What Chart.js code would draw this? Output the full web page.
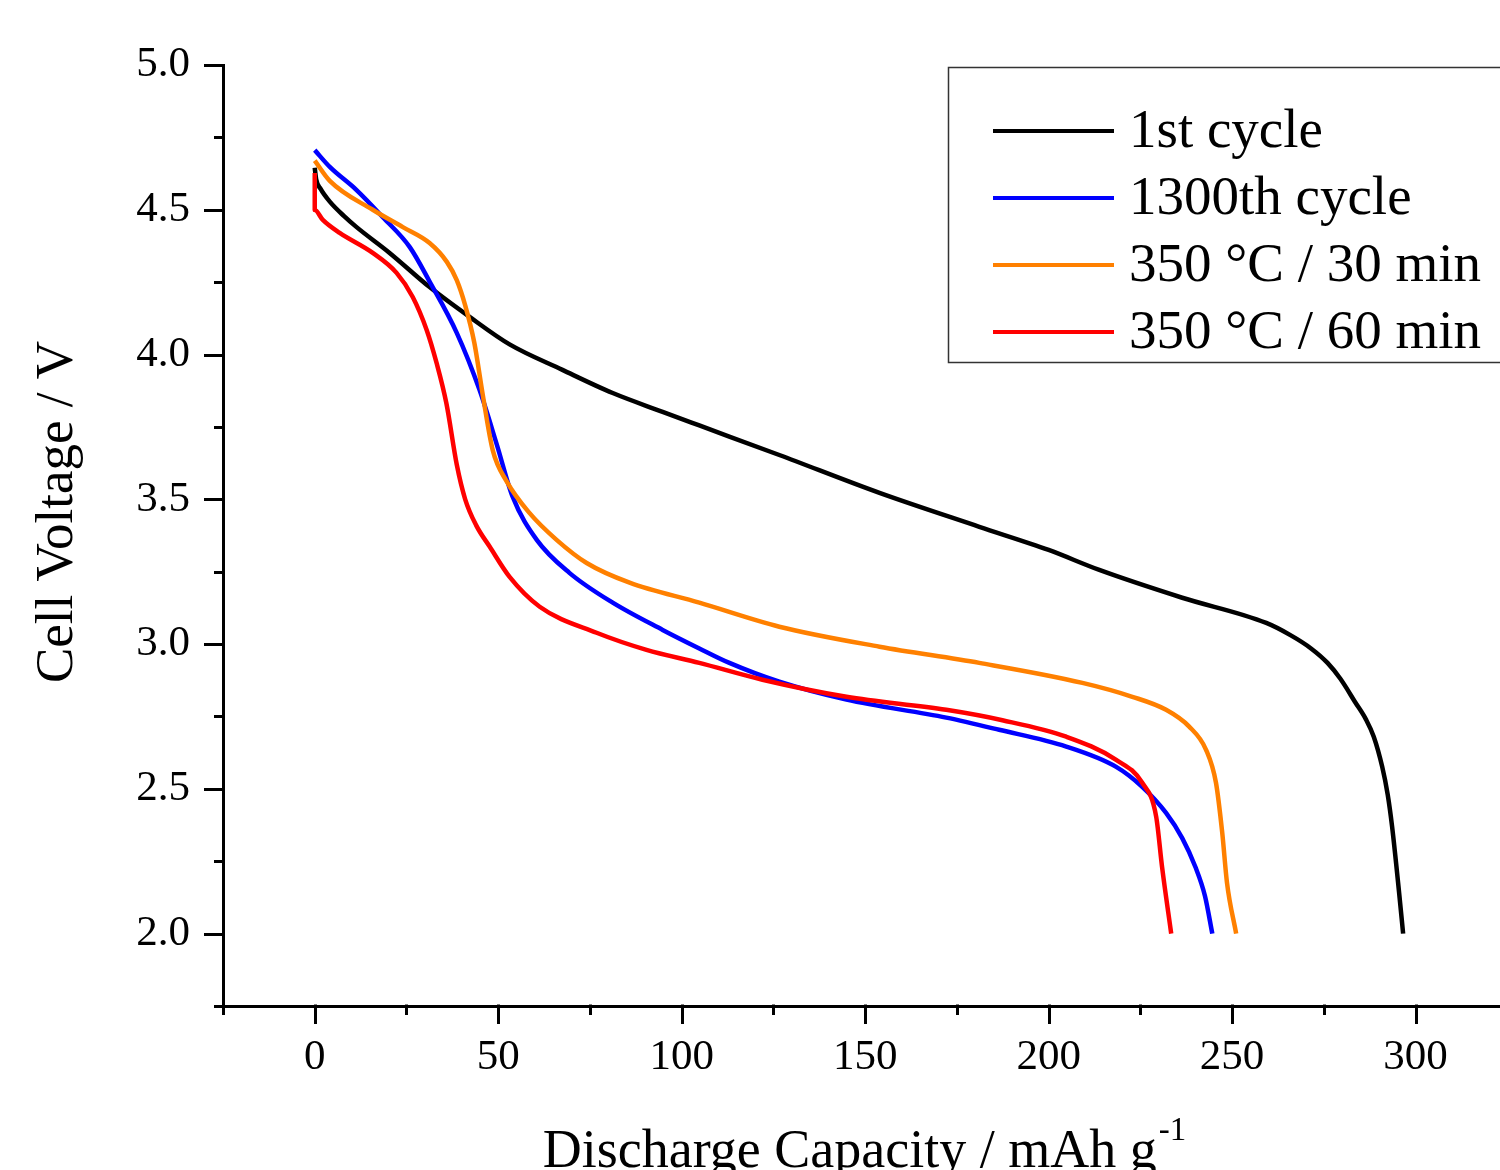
<!DOCTYPE html>
<html><head><meta charset="utf-8">
<script src="https://cdn.jsdelivr.net/npm/chart.js@4.4.0/dist/chart.umd.min.js"></script>
<style>html,body{margin:0;padding:0;background:#fff;overflow:hidden}canvas{display:block}</style>
</head><body><canvas id="c" width="1500" height="1170"></canvas>
<script>
const seriesLabels = ['1st cycle', '1300th cycle', '350 °C / 30 min', '350 °C / 60 min'];
const seriesColors = ['#000000', '#0000ff', '#ff8000', '#ff0000'];

const cap1st  = [0, 0.4, 1.6, 4.1, 8.0, 11.4, 20.4, 31.3, 42.2, 53.1, 67.5, 81.2, 94.8, 104.8, 126.6, 153.9, 181.1, 200, 213.8, 236.4, 259.3, 266.0, 271.5, 276.0, 279.5, 283.5, 286.5, 288.6, 290.9, 292.4, 293.6, 295.5, 296.6];
const volt1st = [4.645, 4.605, 4.572, 4.528, 4.478, 4.44, 4.351, 4.233, 4.13, 4.035, 3.947, 3.867, 3.802, 3.755, 3.653, 3.522, 3.405, 3.325, 3.256, 3.16, 3.073, 3.03, 2.985, 2.935, 2.88, 2.80, 2.739, 2.68, 2.576, 2.48, 2.369, 2.142, 2.0];

const cap1300  = [0, 4.1, 11.4, 18.5, 25.9, 31.3, 38.7, 44.9, 49.6, 53.9, 60.5, 69.4, 81.2, 94.8, 104.8, 113.0, 126.6, 144.9, 172.1, 186.5, 204.8, 218.4, 225.5, 232.0, 236.4, 240.0, 242.6, 244.6];
const volt1300 = [4.706, 4.648, 4.568, 4.475, 4.371, 4.252, 4.075, 3.878, 3.690, 3.51, 3.36, 3.246, 3.143, 3.049, 2.985, 2.935, 2.87, 2.808, 2.746, 2.704, 2.646, 2.576, 2.507, 2.417, 2.33, 2.23, 2.13, 2.0];

const cap30  = [0, 4.1, 15.8, 24.0, 31.3, 36.0, 38.7, 41.0, 43.5, 45.8, 48.5, 52.3, 58.5, 65.9, 74.1, 85.8, 104.8, 126.6, 153.9, 181.1, 209.2, 222.8, 232.0, 238.3, 242.9, 245.6, 247.3, 248.6, 251.1];
const volt30 = [4.67, 4.60, 4.50, 4.44, 4.385, 4.32, 4.257, 4.17, 4.04, 3.86, 3.67, 3.562, 3.453, 3.36, 3.28, 3.212, 3.143, 3.06, 2.991, 2.935, 2.866, 2.818, 2.773, 2.715, 2.635, 2.521, 2.349, 2.176, 2.0];

const cap60  = [0, 0, 2.2, 6.8, 15.8, 22.3, 26.7, 30.5, 33.2, 35.9, 38.7, 41.0, 44.0, 47.7, 53.1, 61.3, 76.8, 90.4, 104.8, 122.0, 144.9, 172.1, 187.4, 204.8, 218.4, 225.5, 229.3, 230.9, 233.4];
const volt60 = [4.627, 4.499, 4.465, 4.42, 4.351, 4.282, 4.199, 4.085, 3.971, 3.83, 3.62, 3.50, 3.41, 3.336, 3.232, 3.129, 3.039, 2.98, 2.935, 2.877, 2.818, 2.773, 2.737, 2.68, 2.60, 2.521, 2.404, 2.231, 2.0];

const xTickValues = [0, 50, 100, 150, 200, 250, 300];
const yTickValues = [2.0, 2.5, 3.0, 3.5, 4.0, 4.5, 5.0];
const xMinorValues = [-25, 25, 75, 125, 175, 225, 275, 325];
const yMinorValues = [1.75, 2.25, 2.75, 3.25, 3.75, 4.25, 4.75];
const xTitle = 'Discharge Capacity / mAh g';
const xTitleSup = '-1';
const yTitle = 'Cell Voltage / V';

const caps = [cap1st, cap1300, cap30, cap60];
const volts = [volt1st, volt1300, volt30, volt60];
const FONT = '"Liberation Serif", "Times New Roman", serif';

const datasets = seriesLabels.map((lab, i) => ({
  label: lab,
  data: caps[i].map((c, j) => ({x: c, y: volts[i][j]})),
  borderColor: seriesColors[i],
  backgroundColor: seriesColors[i],
  borderWidth: 4.5,
  pointRadius: 0,
  fill: false,
  cubicInterpolationMode: 'monotone',
  borderJoinStyle: 'round',
  order: 4 - i
}));

const decor = {
  id: 'decor',
  afterDraw(chart) {
    const ctx = chart.ctx;
    const xs = chart.scales.x, ys = chart.scales.y;
    const a = chart.chartArea;
    ctx.save();
    ctx.strokeStyle = '#000';
    ctx.lineWidth = 3;
    ctx.lineCap = 'butt';
    const yAll = yTickValues.map(v => [v, 19]).concat(yMinorValues.map(v => [v, 9]));
    yAll.forEach(([v, len]) => {
      if (v < ys.min - 1e-9 || v > ys.max + 1e-9) return;
      const p = Math.round(ys.getPixelForValue(v)) + 0.5;
      ctx.beginPath(); ctx.moveTo(a.left - len, p); ctx.lineTo(a.left + 1.5, p); ctx.stroke();
    });
    const xAll = xTickValues.map(v => [v, 18]).concat(xMinorValues.map(v => [v, 9]));
    xAll.forEach(([v, len]) => {
      if (v < xs.min - 1e-9 || v > xs.max + 1e-9) return;
      const p = Math.round(xs.getPixelForValue(v)) + 0.5;
      ctx.beginPath(); ctx.moveTo(p, a.bottom - 1.5); ctx.lineTo(p, a.bottom + len); ctx.stroke();
    });
    ctx.fillStyle = '#000';
    ctx.textBaseline = 'alphabetic';
    ctx.font = '54px ' + FONT;
    const w1 = ctx.measureText(xTitle).width;
    ctx.font = '33px ' + FONT;
    const w2 = ctx.measureText(xTitleSup).width;
    const cx = (a.left + a.right) / 2 + 3;
    const x0 = cx - (w1 + w2 + 2) / 2;
    ctx.font = '54px ' + FONT;
    ctx.textAlign = 'left';
    ctx.fillText(xTitle, x0, 1167);
    ctx.font = '33px ' + FONT;
    ctx.fillText(xTitleSup, x0 + w1 + 2, 1140);
    ctx.save();
    ctx.translate(72, 512);
    ctx.rotate(-Math.PI / 2);
    ctx.font = '53px ' + FONT;
    ctx.textAlign = 'center';
    ctx.fillText(yTitle, 0, 0);
    ctx.restore();
    ctx.fillStyle = '#fff';
    ctx.fillRect(948, 67, 560, 296);
    ctx.strokeStyle = '#333';
    ctx.lineWidth = 1.5;
    ctx.strokeRect(948.5, 67.5, 560, 295);
    const rows = [131, 198, 265, 332];
    chart.data.datasets.forEach((ds, i) => {
      ctx.strokeStyle = ds.borderColor;
      ctx.lineWidth = 4;
      ctx.beginPath(); ctx.moveTo(993, rows[i]); ctx.lineTo(1114, rows[i]); ctx.stroke();
      ctx.fillStyle = '#000';
      ctx.font = '55px ' + FONT;
      ctx.textAlign = 'left';
      ctx.textBaseline = 'middle';
      ctx.fillText(ds.label, 1129, rows[i] + 2);
    });
    ctx.restore();
  }
};

new Chart(document.getElementById('c'), {
  type: 'line',
  data: { datasets },
  options: {
    responsive: false,
    animation: false,
    layout: { padding: { top: 65, left: 0, right: 0, bottom: 0 } },
    plugins: { legend: { display: false }, tooltip: { enabled: false } },
    scales: {
      x: {
        type: 'linear', min: -25, max: 323,
        afterBuildTicks: s => { s.ticks = xTickValues.map(v => ({value: v})); },
        afterFit: s => { s.height = 164; },
        grid: { display: false, drawTicks: false },
        border: { display: true, color: '#000', width: 3 },
        ticks: { color: '#000', font: { family: FONT, size: 43 }, padding: 26, maxRotation: 0, autoSkip: false,
                 callback: v => String(v) }
      },
      y: {
        type: 'linear', min: 1.75, max: 5.0,
        afterBuildTicks: s => { s.ticks = yTickValues.map(v => ({value: v})); },
        afterFit: s => { s.width = 223; },
        grid: { display: false, drawTicks: false },
        border: { display: true, color: '#000', width: 3 },
        ticks: { color: '#000', font: { family: FONT, size: 43 }, padding: 33, autoSkip: false,
                 callback: v => Number(v).toFixed(1) }
      }
    }
  },
  plugins: [decor]
});
</script>
</body></html>
